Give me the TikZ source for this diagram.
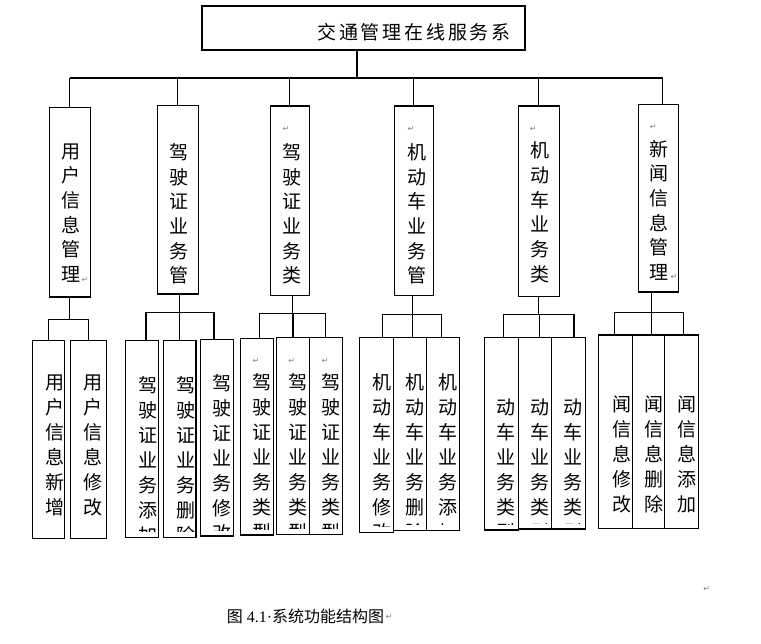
\documentclass[tikz,border=0pt]{standalone}
\usepackage{fontspec}
\setmainfont{Liberation Serif}
\newfontfamily\cjk{Noto Sans CJK SC}
\newfontfamily\dv{DejaVu Sans}
\usetikzlibrary{fit}
\tikzset{
  box/.style={draw, line width=1.1pt, inner sep=0pt},
  conn/.style={line width=1.1pt},
  vt/.style={text width=24pt, align=center, inner sep=0pt, anchor=north, font={\cjk\fontsize{19}{24.7}\selectfont}},
  vb/.style={text width=24pt, align=center, inner sep=0pt, anchor=north, font={\cjk\fontsize{19}{25}\selectfont}},
  ret/.style={font={\dv\fontsize{8}{8}\selectfont}, text=gray, inner sep=0pt},
}
\newcommand\colbox[6]{%
  \node[box, fit={(#2) (#3)}] (#1) {};
  \node[vt] (t#1) at (#4,#5) {#6};}
\newcommand\subbox[6]{%
  \node[box, fit={(#2) (#3)}] (#1) {};
  \begin{scope}
    \clip (#1.north west) rectangle ([yshift=6.5pt]#1.south east);
    \node[vb] (t#1) at (#4,#5) {#6};
  \end{scope}}
\begin{document}
\begin{tikzpicture}[x=1pt,y=-1pt]
\useasboundingbox (0,0) rectangle (761,644);
% title
\node[box, fit={(202,6) (525,50)}] (title) {};
\node[inner sep=0pt, font={\cjk\fontsize{19}{19}\selectfont}] (tt) at (414,32)
  {交\kern2.8pt 通\kern2.8pt 管\kern2.8pt 理\kern2.8pt 在\kern2.8pt 线\kern2.8pt 服\kern2.8pt 务\kern2.8pt 系};
% first level
\colbox{c1}{49.3,107.3}{90.3,297}{70.7}{143.2}{用\\户\\信\\息\\管\\理}
\colbox{c2}{157.3,105.3}{198.3,294}{179.3}{143.2}{驾\\驶\\证\\业\\务\\管}
\colbox{c3}{270.3,106}{309.3,295.3}{292.3}{143.2}{驾\\驶\\证\\业\\务\\类}
\colbox{c4}{394.3,106}{433.3,295.3}{416.7}{143.2}{机\\动\\车\\业\\务\\管}
\colbox{c5}{518.3,106}{559.3,296.3}{540}{141.5}{机\\动\\车\\业\\务\\类}
\colbox{c6}{638.3,104.3}{678.3,292}{659.3}{139.8}{新\\闻\\信\\息\\管\\理}
% second level
\subbox{A}{32.3,340.7}{64.3,538.3}{55}{374.8}{用\\户\\信\\息\\新\\增}
\subbox{B}{70.3,340.7}{106.7,538.3}{92.7}{374.8}{用\\户\\信\\息\\修\\改}
\subbox{C}{125.3,340.7}{158.3,537.3}{147.7}{376.5}{驾\\驶\\证\\业\\务\\添\\加}
\subbox{D}{163.3,340.7}{196,537.3}{185.7}{376.5}{驾\\驶\\证\\业\\务\\删\\除}
\subbox{E}{200.3,339.3}{233.3,536}{222.3}{374.8}{驾\\驶\\证\\业\\务\\修\\改}
\subbox{F}{240.7,338.3}{273.3,535}{262.3}{373.2}{驾\\驶\\证\\业\\务\\类\\型}
\subbox{G}{276.7,337.3}{309.3,534.3}{298.3}{373.2}{驾\\驶\\证\\业\\务\\类\\型}
\subbox{H}{309.3,337.3}{342.3,534.3}{331}{373.2}{驾\\驶\\证\\业\\务\\类\\型}
\subbox{I}{359.3,337.3}{393.3,532.3}{382.3}{373.2}{机\\动\\车\\业\\务\\修\\改}
\subbox{J}{393.3,337.3}{426.3,530.7}{415}{373.2}{机\\动\\车\\业\\务\\删\\除}
\subbox{K}{426.3,337.3}{459.3,530.7}{448.3}{373.2}{机\\动\\车\\业\\务\\添\\加}
\subbox{L}{484.3,337.3}{518.3,530}{505.7}{398.2}{动\\车\\业\\务\\类\\型}
\subbox{M}{518.3,337.3}{551.7,529}{540}{398.2}{动\\车\\业\\务\\类\\型}
\subbox{N}{551.7,337.3}{585.3,529}{572.7}{398.2}{动\\车\\业\\务\\类\\型}
\subbox{O}{598.3,335}{632.3,528.3}{621.7}{395.5}{闻\\信\\息\\修\\改}
\subbox{P}{632.3,335}{664.3,528.3}{654.3}{395.5}{闻\\信\\息\\删\\除}
\subbox{Q}{664.3,335}{698.3,528.3}{687.3}{395.5}{闻\\信\\息\\添\\加}
% paragraph marks
\node[ret] (r1) at (85,280) {↵};
\node[ret] (r3) at (286,129) {↵};
\node[ret] (r4) at (411,129.3) {↵};
\node[ret] (r5) at (533.3,129.3) {↵};
\node[ret] (r6a) at (653.3,126.7) {↵};
\node[ret] (r6b) at (674,277.3) {↵};
\node[ret] (rF) at (256,360.7) {↵};
\node[ret] (rG) at (291.7,360.7) {↵};
\node[ret] (rH) at (325,360.7) {↵};
\node[ret] (rfar) at (706.7,589.3) {↵};
% caption
\node[anchor=west, inner sep=0pt, font={\fontsize{16}{16}\selectfont}] (cap) at (226.7,616.7)
  {{\cjk 图} 4.1·{\cjk 系统功能结构图}};
\node[ret, anchor=west] (rcap) at ([xshift=1pt]cap.east) {↵};
% connectors: top
\coordinate (bL) at (71,78);
\coordinate (tj) at ([xshift=-6.5pt]title.south);
\coordinate (d6) at ([xshift=4.4pt]c6.north);
\draw[conn] (tj) -- (tj |- bL);
\draw[conn] (c1.north |- bL) -- (d6 |- bL);
\foreach \n in {c1,c2,c3,c4,c5} \draw[conn] (\n.north) -- (\n.north |- bL);
\draw[conn] (d6) -- (d6 |- bL);
% col1
\path (c1.south) ++(0,22.3) coordinate (j1);
\draw[conn] (c1.south) -- (j1);
\draw[conn] (A.north) |- (j1) -| (B.north);
% col2
\coordinate (s2) at ([xshift=2pt]c2.south);
\path (s2) ++(0,17.7) coordinate (j2);
\coordinate (dC) at ([xshift=4.2pt]C.north);
\coordinate (dE) at ([xshift=-2.8pt]E.north);
\draw[conn] (s2) -- (j2);
\draw[conn] (dC) |- (j2) -| (dE);
\draw[conn] (D.north) -- (D.north |- j2);
% col3
\coordinate (s3) at ([xshift=2.5pt]c3.south);
\path (s3) ++(0,17.4) coordinate (j3);
\coordinate (dF) at ([xshift=2.3pt]F.north);
\draw[conn] (s3) -- (j3);
\draw[conn] (dF) |- (j3) -| (H.north);
\draw[conn] (G.north) -- (G.north |- j3);
% col4
\coordinate (s4) at ([xshift=-1.5pt]c4.south);
\path (s4) ++(0,19) coordinate (j4);
\coordinate (dI) at ([xshift=6.4pt]I.north);
\coordinate (dJ) at ([xshift=2.5pt]J.north);
\coordinate (dK) at ([xshift=-1.5pt]K.north);
\draw[conn] (s4) -- (j4);
\draw[conn] (dI) |- (j4) -| (dK);
\draw[conn] (dJ) -- (dJ |- j4);
% col5
\path (c5.south) ++(0,18) coordinate (j5);
\coordinate (dL) at ([xshift=2pt]L.north);
\coordinate (dM) at ([xshift=4.3pt]M.north);
\coordinate (dN) at ([xshift=5.5pt]N.north);
\draw[conn] (c5.south) -- (j5);
\draw[conn] (dL) |- (j5) -| (dN);
\draw[conn] (dM) -- (dM |- j5);
% col6
\coordinate (s6) at ([xshift=-6.6pt]c6.south);
\path (s6) ++(0,20.3) coordinate (j6);
\coordinate (dO) at ([xshift=-1pt]O.north);
\coordinate (dP) at ([xshift=3.4pt]P.north);
\coordinate (dQ) at ([xshift=2pt]Q.north);
\draw[conn] (s6) -- (j6);
\draw[conn] (dO) |- (j6) -| (dQ);
\draw[conn] (dP) -- (dP |- j6);
\end{tikzpicture}
\end{document}
